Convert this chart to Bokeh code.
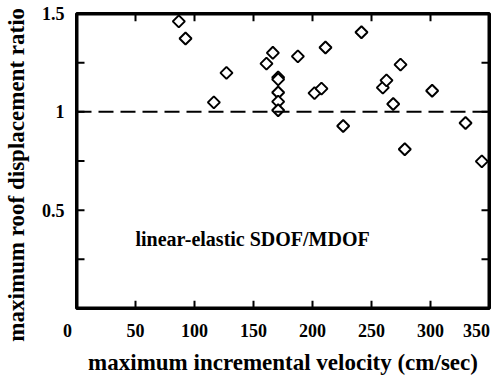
import math
from bokeh.plotting import figure
from bokeh.models import Range1d, FixedTicker, Span, Label
from bokeh.embed import file_html
from bokeh.resources import INLINE

# data
velocity = [86.7, 92.4, 116.4, 127.1, 161.0, 166.4, 170.9, 170.9, 170.9, 170.9, 170.9,
            187.6, 201.7, 207.6, 211.0, 226.0, 241.5, 259.6, 262.7, 268.4, 274.6, 278.2,
            301.4, 329.7, 343.5]
ratio = [1.46, 1.373, 1.048, 1.198, 1.245, 1.30, 1.175, 1.165, 1.098, 1.052, 1.008,
         1.282, 1.095, 1.118, 1.327, 0.928, 1.405, 1.123, 1.16, 1.04, 1.24, 0.81,
         1.107, 0.943, 0.748]
x_ticks = [0, 50, 100, 150, 200, 250, 300, 350]
y_ticks = [0, 0.25, 0.5, 0.75, 1.0, 1.25, 1.5]
x_label_ticks = [0, 50, 100, 150, 200, 250, 300, 350]
y_label_ticks = [0.5, 1.0, 1.5]
NB = "\u00a0"  # no-break spaces nudge the two corner labels
x_tick_labels = {0: "0" + NB * 4, 350: "350" + NB}
y_tick_labels = {0.5: "0.5", 1: "1", 1.5: "1.5"}
x_min, x_max = 0, 350
y_min, y_max = 0, 1.5
reference_ratio = 1.0
note = "linear-elastic SDOF/MDOF"
x_title = "maximum incremental velocity (cm/sec)"
y_title = "maximum roof displacement ratio" + "\u2003\u2009"

FONT = "Times"
W, H = 494, 377
BL, BT, BR, BB = 76, 13, 5, 64
TICK_PX, TICK_W, FRAME_W = 8, 2, 2

p = figure(width=W, height=H, output_backend="svg", toolbar_location=None,
           x_range=Range1d(x_min, x_max), y_range=Range1d(y_min, y_max),
           min_border_left=BL, min_border_top=BT, min_border_right=BR, min_border_bottom=BB)
p.outline_line_color = "black"
p.outline_line_width = 3
p.grid.visible = False

def style_axis(ax, ticks, overrides):
    ax.ticker = FixedTicker(ticks=ticks)
    ax.major_label_overrides = overrides
    ax.axis_line_color = None
    ax.major_tick_in = 0
    ax.major_tick_out = 0
    ax.major_tick_line_color = None
    ax.minor_tick_line_color = None
    ax.major_label_text_font = FONT
    ax.major_label_text_font_style = "bold"
    ax.major_label_text_font_size = "18px"
    ax.major_label_text_color = "black"
    ax.axis_label_text_font = FONT
    ax.axis_label_text_font_style = "bold"
    ax.axis_label_text_font_size = "23px"
    ax.axis_label_text_color = "black"

xa = p.xaxis[0]
ya = p.yaxis[0]
style_axis(xa, x_label_ticks, x_tick_labels)
style_axis(ya, y_label_ticks, y_tick_labels)
xa.major_label_standoff = 12
ya.major_label_standoff = 12
xa.axis_label = x_title
ya.axis_label = y_title
xa.axis_label_standoff = 6
ya.axis_label_standoff = 10

# data units per screen pixel inside the frame
ux = (x_max - x_min) / (W - BL - BR)
uy = (y_max - y_min) / (H - BT - BB)

L, R, B, T = [], [], [], []
def bar(l, r, b, t):
    L.append(l); R.append(r); B.append(b); T.append(t)

# frame border drawn as filled bars just inside the frame
bar(x_min, x_max, y_min, y_min + FRAME_W * uy)
bar(x_min, x_max, y_max - FRAME_W * uy, y_max)
bar(x_min, x_min + FRAME_W * ux, y_min, y_max)
bar(x_max - FRAME_W * ux, x_max, y_min, y_max)
# inward tick marks on all four sides
hw_x = TICK_W / 2 * ux
hw_y = TICK_W / 2 * uy
for t in x_ticks[1:-1]:
    bar(t - hw_x, t + hw_x, y_min, y_min + TICK_PX * uy)
    bar(t - hw_x, t + hw_x, y_max - TICK_PX * uy, y_max)
for t in y_ticks[1:-1]:
    bar(x_min, x_min + TICK_PX * ux, t - hw_y, t + hw_y)
    bar(x_max - TICK_PX * ux, x_max, t - hw_y, t + hw_y)
p.quad(left=L, right=R, bottom=B, top=T, fill_color="black", line_color=None)

p.add_layout(Span(location=reference_ratio, dimension="width", line_color="black",
                  line_width=2, line_dash="15 7"))

p.scatter(velocity, ratio, marker="square", angle=math.pi / 4, size=8.5,
          fill_color="white", line_color="black", line_width=2)

p.add_layout(Label(x=50, y=0.355, text=note, text_align="left", text_baseline="middle",
                   text_font=FONT, text_font_style="bold", text_font_size="20px",
                   text_color="black"))

open("out.html", "w").write(file_html(p, INLINE))
